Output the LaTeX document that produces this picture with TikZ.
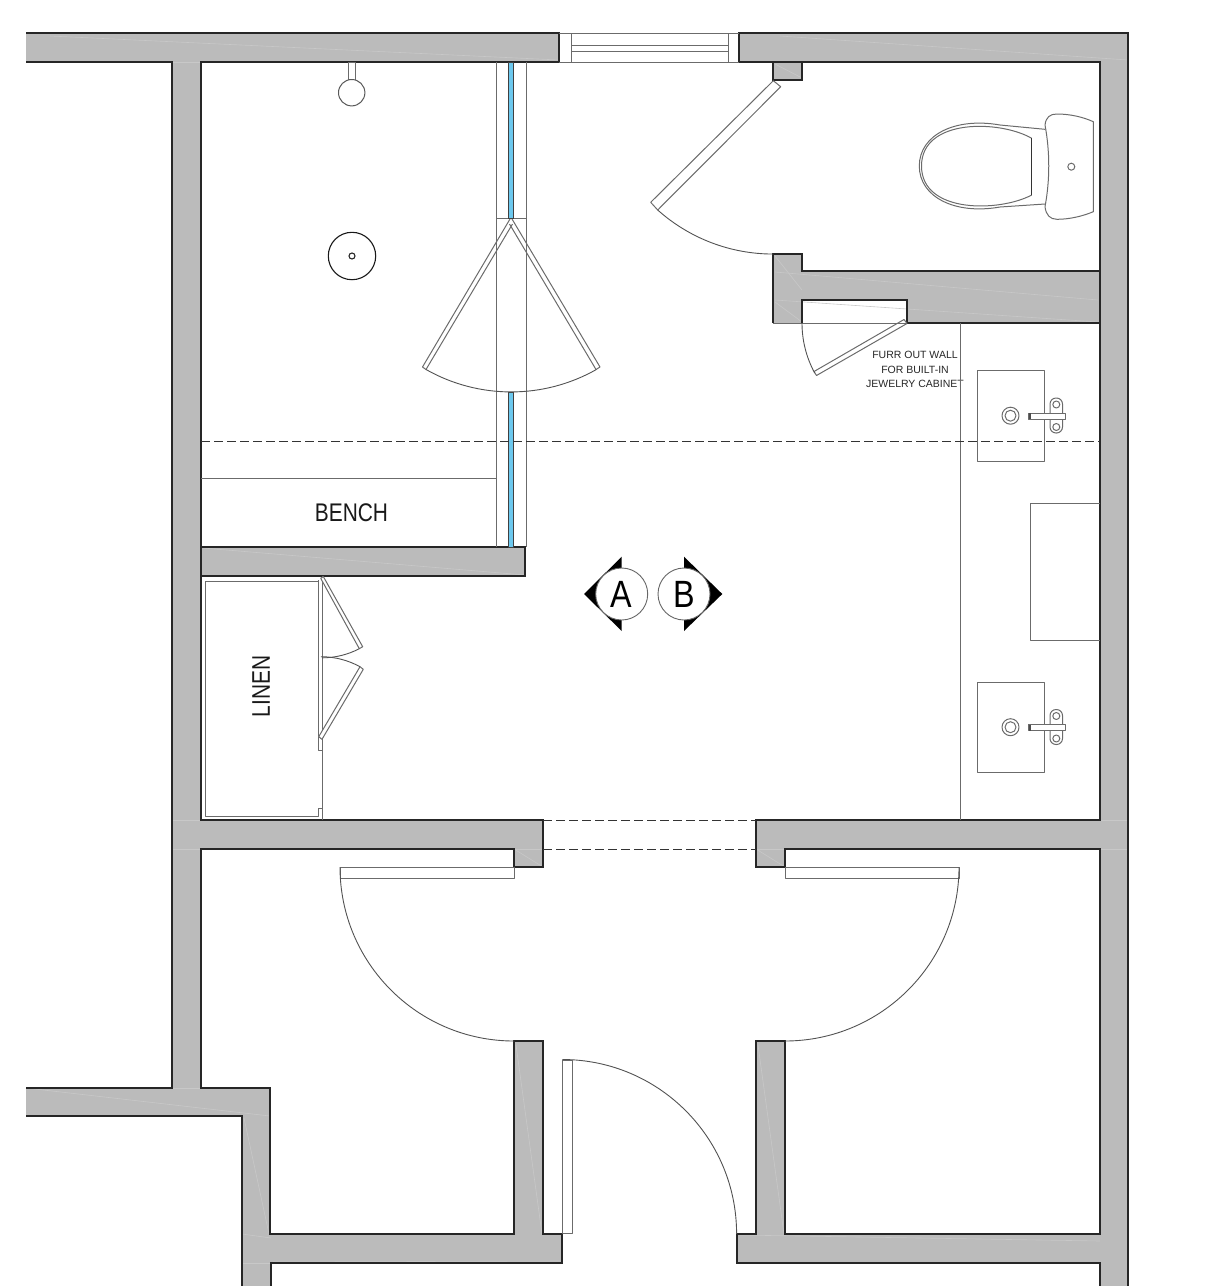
\documentclass[tikz,border=0pt]{standalone}
\usepackage{fontspec}
\setmainfont{Liberation Sans}
\usetikzlibrary{positioning}
\usetikzlibrary{calc}
\definecolor{wallgray}{HTML}{BBBBBB}
\definecolor{seamgray}{HTML}{C8C8C8}
\definecolor{glassblue}{HTML}{6CC8EE}
\newcommand{\narrowtext}[2][.82]{\scalebox{#1}[1]{#2}}
\tikzstyle{wallfill} = [fill=wallgray, draw=none]
\tikzstyle{wallline} = [draw=black!85, line width=1.3pt, line join=miter]
\tikzstyle{fixture} = [draw=black!58, line width=1pt, line join=round]
\tikzstyle{swing} = [draw=black!68, line width=0.9pt]
\tikzstyle{hidden} = [draw=black!80, line width=0.9pt, dash pattern=on 8.5pt off 4.5pt]
\tikzstyle{seam} = [draw=seamgray, line width=0.6pt]
\tikzstyle{marker} = [circle, draw=black!60, fill=white, line width=0.9pt, minimum size=52pt, inner sep=0pt, font=\fontsize{38}{38}\selectfont]
\tikzstyle{label} = [inner sep=0pt, text=black!90, font=\fontsize{25.5}{25.5}\selectfont]

\begin{document}
\begin{tikzpicture}[x=1pt, y=1pt, yscale=-1]
	\useasboundingbox (0,0) rectangle (1222,1286);
	\clip (0,0) rectangle (1222,1286);
	
	% walls
	\path [wallfill] (26,33) -- (559,33) -- (559,62) -- (201,62) -- (201,547) -- (525,547) -- (525,576) -- (201,576) -- (201,820) -- (543,820) -- (543,867) -- (514,867) -- (514,849) -- (201,849) -- (201,1088) -- (270,1088) -- (270,1234) -- (514,1234) -- (514,1041) -- (543,1041) -- (543,1234) -- (562,1234) -- (562,1263) -- (271,1263) -- (271,1290) -- (242,1290) -- (242,1116) -- (26,1116) -- (26,1088) -- (172,1088) -- (172,62) -- (26,62) -- cycle;
	\path [wallfill] (739,33) -- (1128,33) -- (1128,1290) -- (1100,1290) -- (1100,1263) -- (737,1263) -- (737,1234) -- (756,1234) -- (756,1041) -- (785,1041) -- (785,1234) -- (1100,1234) -- (1100,849) -- (785,849) -- (785,867) -- (756,867) -- (756,820) -- (1100,820) -- (1100,323) -- (907,323) -- (907,300) -- (802,300) -- (802,323) -- (773,323) -- (773,254) -- (802,254) -- (802,271) -- (1100,271) -- (1100,62) -- (802,62) -- (802,80) -- (773,80) -- (773,62) -- (739,62) -- cycle;
	
	\foreach \ax/\ay/\bx/\by in {775/272/1098/300, 775/300/1098/322, 775/256/802/290, 775/302/802/322, 514/849/543/849, 514/849/543/867, 756/849/785/849, 756/849/785/867, 516/1045/542/1234, 758/1045/784/1234, 739/1235/1100/1241, 273/1262/560/1261, 173/849/201/849, 173/820/201/820, 1100/820/1128/820, 1100/849/1128/849, 244/1118/269/1234, 203/548/525/575, 50/36/559/60, 775/64/802/78, 780/36/1128/60, 172/1088/201/1088, 26/1088/270/1116, 242/1234/271/1238, 242/1263/271/1263, 173/62/201/62}
		\draw [seam] (\ax,\ay) -- (\bx,\by);
	
	\draw [wallline] (26,33) -- (559,33) -- (559,62) -- (201,62) -- (201,820) -- (543,820) -- (543,867) -- (514,867) -- (514,849) -- (201,849) -- (201,1088) -- (270,1088) -- (270,1234) -- (514,1234) -- (514,1041) -- (543,1041) -- (543,1234) -- (562,1234) -- (562,1263) -- (271,1263) -- (271,1290);
	\draw [wallline] (201,547) -- (525,547) -- (525,576) -- (201,576);
	\draw [wallline] (242,1290) -- (242,1116) -- (26,1116);
	\draw [wallline] (26,1088) -- (172,1088) -- (172,62) -- (26,62);
	\draw [wallline] (739,62) -- (739,33) -- (1128,33) -- (1128,1290);
	\draw [wallline] (1100,1290) -- (1100,1263) -- (737,1263) -- (737,1234) -- (756,1234) -- (756,1041) -- (785,1041) -- (785,1234) -- (1100,1234) -- (1100,849) -- (785,849) -- (785,867) -- (756,867) -- (756,820) -- (1100,820) -- (1100,62) -- (739,62);
	\draw [wallline] (802,62) -- (802,80) -- (773,80) -- (773,62);
	\draw [wallline] (802,323) -- (802,300) -- (907,300) -- (907,323);
	\draw [wallline] (773,323) -- (773,254) -- (802,254) -- (802,271) -- (1100,271);
	\draw [wallline] (907,323) -- (1100,323);
	\draw [fixture] (773,323) -- (907,323);
	
	% window
	\draw [fixture] (559,33) -- (739,33);
	\draw [fixture] (559,62) -- (739,62);
	\draw [fixture] (571,33) -- (571,62);
	\draw [fixture] (728,33) -- (728,62);
	\draw [fixture] (571,45) -- (728,45);
	\draw [fixture] (571,51) -- (728,51);
	
	% shower glass
	\draw [fixture] (496,62) -- (496,547);
	\draw [fixture] (526,62) -- (526,547);
	\draw [fixture] (496,218) -- (526,218);
	\draw [fill=glassblue, draw=black!75, line width=0.8pt] (508.5,62) rectangle (513.3,218);
	\draw [fill=glassblue, draw=black!75, line width=0.8pt] (508.5,392) rectangle (513.3,547);
	\draw [fixture] (510,219) -- (422.5,367) -- (426,369.5) -- (512.5,224);
	\draw [fixture] (512,219) -- (600,367) -- (596,369.5) -- (509.5,224);
	\draw [swing] (426,369.5) arc[start angle=119.5, end angle=60.5, radius=173pt];
	
	% shower head and drain
	\draw [fixture, fill=white] (348.5,62) rectangle (355,80);
	\draw [fixture, draw=black!65, fill=white] (351.7,92.7) circle (13.2pt);
	\draw [draw=black!90, line width=1.1pt] (352,256) circle (23.7pt);
	\draw [draw=black!85, line width=1.1pt] (352,256) circle (3pt);
	
	% bench
	\draw [fixture] (201,478) -- (496,478);
	\node (bench_label) [label] at (351.5,512.5) {\narrowtext{BENCH}};
	
	% water closet door
	\draw [fixture] (773.3,80.7) -- (780.7,86.7) -- (657.7,210) -- (650.7,202.3) -- cycle;
	\draw [swing] (657.7,210) arc[start angle=131.8, end angle=90, radius=173pt];
	
	% toilet
	\draw [fixture] (1045,125) .. controls (1046,117) and (1050,114) .. (1057,114) .. controls (1070,114) and (1083,117) .. (1093.3,121.7) -- (1093.3,211.7) .. controls (1083,216) and (1070,219.3) .. (1057,219.3) .. controls (1050,219.3) and (1046,215) .. (1045,206.7) .. controls (1050,180) and (1050,152) .. (1045,125) -- cycle;
	\draw [fixture] (1045,129.3) -- (1000,125) .. controls (955,117) and (919.3,135) .. (919.3,166) .. controls (919.3,197) and (955,215) .. (1000,207) -- (1045,204);
	\draw [fixture] (1031.7,138.3) .. controls (1000,120) and (921.5,118) .. (921.5,166) .. controls (921.5,214) and (1000,212) .. (1031.7,195);
	\draw [fixture, draw=black!80] (1031.7,138.3) -- (1031.7,195);
	\draw [fixture] (1071.3,166.7) circle (3.5pt);
	
	% jewelry cabinet door
	\draw [fixture] (904,319.5) -- (907,323.5) -- (816.5,375.5) -- (814,371.5) -- cycle;
	\draw [swing] (802,323) arc[start angle=180, end angle=151.5, radius=105pt];
	\node (furr_note) [inner sep=0pt, align=center, text=black!85, font=\fontsize{10.5}{14.5}\selectfont] at (915,369.5) {FURR OUT WALL\\FOR BUILT-IN\\JEWELRY CABINET};
	
	% vanity
	\draw [fixture] (960,323) -- (960,820);
	\draw [fixture] (1100,503) -- (1030,503) -- (1030,640) -- (1100,640);
	\foreach \sinky in {0,311.5} {
		\begin{scope}[yshift=\sinky pt]
			\draw [fixture] (977.5,370.5) rectangle (1044,461);
			\draw [fixture] (1010.5,415.7) circle (8.5pt);
			\draw [fixture] (1010.5,415.7) circle (5.5pt);
			\draw [fixture, fill=white, rounded corners=6pt] (1050,398) rectangle (1062.5,433);
			\draw [fixture] (1056.3,404.5) circle (3.5pt);
			\draw [fixture] (1056.3,427) circle (3.5pt);
			\draw [fixture, fill=white] (1028.5,413) rectangle (1065,419);
			\draw [fill=black!70, draw=none] (1028.5,413) rectangle (1030.5,419);
		\end{scope}
	}
	
	% hidden lines
	\draw [hidden] (201,441) -- (1100,441);
	\draw [hidden] (543,820) -- (756,820);
	\draw [hidden] (543,849) -- (756,849);
	
	% linen closet
	\draw [fixture] (322.7,576) -- (322.7,820);
	\draw [fixture] (318.3,580) -- (318.3,581) -- (205,581) -- (205,816) -- (318.3,816) -- (318.3,808.3) -- (322.7,808.3);
	\draw [fixture] (318.3,580) -- (318.3,750) -- (322.7,750);
	\draw [fixture, fill=white] (320.7,578.3) -- (323.3,576.5) -- (362.7,646.7) -- (359.3,648.7) -- cycle;
	\draw [fixture, fill=white] (318.7,736.7) -- (322,739.3) -- (363.3,669.3) -- (360,666.7) -- cycle;
	\draw [swing] (359.3,648.7) arc[start angle=62.5, end angle=90, radius=80.8pt];
	\draw [swing] (360,666.7) arc[start angle=-61.3, end angle=-90, radius=81.3pt];
	\node (linen_label) [label, rotate=90] at (261,686.5) {\narrowtext{LINEN}};
	
	% entry doors
	\draw [fixture] (340,867) rectangle (514,878);
	\draw [swing] (340,867) arc[start angle=180, end angle=90, radius=174pt];
	\draw [fixture] (785,867) rectangle (959,878);
	\draw [swing] (959,867) arc[start angle=0, end angle=90, radius=174pt];
	\draw [fixture] (562.3,1060) rectangle (572.7,1233.5);
	\draw [swing] (562.3,1059.5) arc[start angle=-90, end angle=0, radius=174.3pt];
	
	% section marks
	\fill [black] (621.7,556.7) -- (584,594) -- (621.7,631) -- cycle;
	\fill [black] (684,556.7) -- (722.3,594) -- (684,631) -- cycle;
	\node (mark_a) [marker] at (621.7,594) {\narrowtext[.85]{A}};
	\node (mark_b) [marker] at (684,594) {\narrowtext[.85]{B}};
	
\end{tikzpicture}
\end{document}
